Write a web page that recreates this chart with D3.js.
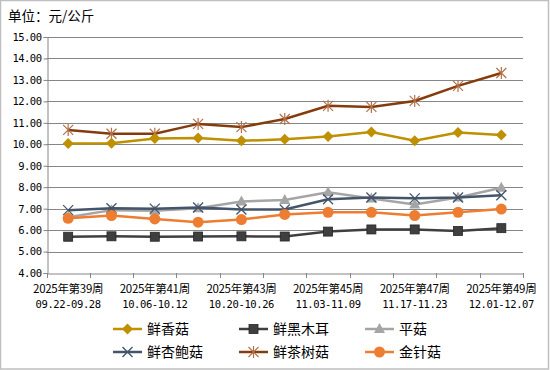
<!DOCTYPE html>
<html>
<head>
<meta charset="utf-8">
<script src="https://cdn.jsdelivr.net/npm/d3@7"></script>
<style>
  html, body { margin: 0; padding: 0; background: #fff; }
  svg { display: block; }
  text { font-family: "Noto Sans CJK SC", "DejaVu Sans", sans-serif; fill: #000; }
  text.mono { font-family: "DejaVu Sans Mono", "Liberation Mono", monospace; }
</style>
</head>
<body>
<div id="chart"></div>
<script>
// ── Data ──
const weeks = ['39', '40', '41', '42', '43', '44', '45', '46', '47', '48', '49'];
const weekLabels = ['2025年第39周', '', '2025年第41周', '', '2025年第43周', '', '2025年第45周', '', '2025年第47周', '', '2025年第49周'];
const dateLabels = ['09.22-09.28', '', '10.06-10.12', '', '10.20-10.26', '', '11.03-11.09', '', '11.17-11.23', '', '12.01-12.07'];
const yTicks = [4, 5, 6, 7, 8, 9, 10, 11, 12, 13, 14, 15];

const seriesNames = ['鲜香菇', '鲜黑木耳', '平菇', '鲜杏鲍菇', '鲜茶树菇', '金针菇'];
const xianxianggu = [10.04, 10.05, 10.27, 10.29, 10.16, 10.23, 10.36, 10.57, 10.17, 10.55, 10.43];
const heimuer     = [5.69, 5.71, 5.69, 5.70, 5.71, 5.70, 5.93, 6.03, 6.03, 5.96, 6.09];
const pinggu      = [6.60, 6.93, 6.90, 7.02, 7.33, 7.40, 7.76, 7.47, 7.19, 7.52, 7.97];
const xingbaogu   = [6.93, 7.02, 7.00, 7.05, 6.96, 6.96, 7.44, 7.52, 7.48, 7.52, 7.62];
const chashugu    = [10.67, 10.49, 10.49, 10.95, 10.80, 11.18, 11.79, 11.74, 12.02, 12.72, 13.32];
const jinzhengu   = [6.55, 6.68, 6.52, 6.37, 6.49, 6.73, 6.83, 6.83, 6.68, 6.83, 6.98];

const seriesValues = [xianxianggu, heimuer, pinggu, xingbaogu, chashugu, jinzhengu];
const seriesColors = ['#BF9000', '#3F3F3F', '#A5A5A5', '#44546A', '#843C0C', '#ED7D31'];
const seriesMarkers = ['diamond', 'square', 'triangle', 'x', 'star', 'circle'];
const drawOrder = [4, 0, 2, 3, 5, 1];

// ── Layout ──
const W = 550, H = 370;
const plot = { left: 46.5, right: 523, top: 37, bottom: 273 };

const svg = d3.select('#chart').append('svg')
  .attr('width', W).attr('height', H);

// Outer frame
svg.append('rect')
  .attr('x', 0.5).attr('y', 0.5).attr('width', W - 2).attr('height', H - 1.5)
  .attr('fill', '#fff').attr('stroke', '#BFBFBF').attr('stroke-width', 1.5);

// Unit label
svg.append('text').attr('x', 8).attr('y', 21).attr('font-size', 13.5).text('单位：元/公斤');

// Scales
const x = d3.scaleBand().domain(weeks).range([plot.left, plot.right]);
const y = d3.scaleLinear().domain([4, 15]).range([plot.bottom, plot.top]);
const cx = w => x(w) + x.bandwidth() / 2;

// Gridlines
svg.append('g')
  .selectAll('line').data(yTicks.filter(t => t > 4)).join('line')
  .attr('x1', plot.left).attr('x2', plot.right)
  .attr('y1', d => Math.round(y(d)) + 0.5).attr('y2', d => Math.round(y(d)) + 0.5)
  .attr('stroke', '#868686').attr('stroke-width', 1);

// Y axis
const yAxis = svg.append('g')
  .attr('transform', `translate(${Math.round(plot.left) + 0.5},0)`)
  .call(d3.axisLeft(y).tickValues(yTicks).tickSize(4).tickFormat(d => d.toFixed(2)));
yAxis.attr('font-family', null).attr('font-size', null);
yAxis.select('.domain').attr('stroke', '#868686');
yAxis.selectAll('.tick line').attr('stroke', '#868686');
yAxis.selectAll('.tick text').attr('class', 'mono').attr('font-size', 10.5).attr('x', -6)
  .attr('letter-spacing', -0.5);

// X axis
const xAxis = svg.append('g')
  .attr('transform', `translate(0,${Math.round(plot.bottom) + 0.5})`)
  .call(d3.axisBottom(x).tickSize(0).tickFormat(''));
xAxis.select('.domain').attr('stroke', '#868686');
const xTickPos = weeks.map(w => x(w)).concat([plot.right]);
svg.append('g').selectAll('line').data(xTickPos).join('line')
  .attr('x1', d => Math.round(d) + 0.5).attr('x2', d => Math.round(d) + 0.5)
  .attr('y1', plot.bottom).attr('y2', plot.bottom + 5)
  .attr('stroke', '#868686');

const xl = svg.append('g');
weeks.forEach((w, i) => {
  if (!weekLabels[i]) return;
  xl.append('text').attr('x', cx(w)).attr('y', plot.bottom + 20)
    .attr('text-anchor', 'middle').attr('font-size', 11.5).attr('letter-spacing', -0.3).text(weekLabels[i]);
  xl.append('text').attr('class', 'mono').attr('x', cx(w)).attr('y', plot.bottom + 35)
    .attr('text-anchor', 'middle').attr('font-size', 10.5)
    .attr('letter-spacing', -0.4).text(dateLabels[i]);
});

// ── Markers ──
function drawMarker(g, type, color, px, py) {
  if (type === 'diamond') {
    g.append('path').attr('d', `M${px},${py - 5.5}L${px + 5.5},${py}L${px},${py + 5.5}L${px - 5.5},${py}Z`)
      .attr('fill', color);
  } else if (type === 'square') {
    g.append('rect').attr('x', px - 4.5).attr('y', py - 4.5).attr('width', 9).attr('height', 9)
      .attr('fill', color).attr('stroke', '#262626').attr('stroke-width', 0.8);
  } else if (type === 'triangle') {
    g.append('path').attr('d', `M${px},${py - 6}L${px + 5.5},${py + 4}L${px - 5.5},${py + 4}Z`)
      .attr('fill', color);
  } else if (type === 'x') {
    g.append('path').attr('d', `M${px - 5},${py - 5}L${px + 5},${py + 5}M${px - 5},${py + 5}L${px + 5},${py - 5}`)
      .attr('stroke', color).attr('stroke-width', 1.3);
  } else if (type === 'star') {
    g.append('path').attr('d', `M${px - 5},${py - 5}L${px + 5},${py + 5}M${px - 5},${py + 5}L${px + 5},${py - 5}M${px},${py - 6}L${px},${py + 6}`)
      .attr('stroke', '#B3704A').attr('stroke-width', 1.2);
  } else if (type === 'circle') {
    g.append('circle').attr('cx', px).attr('cy', py).attr('r', 5.5).attr('fill', color);
  }
}

// ── Lines ──
const line = d3.line().x((d, i) => cx(weeks[i])).y(d => y(d));
drawOrder.forEach(s => {
  const g = svg.append('g');
  g.append('path').datum(seriesValues[s])
    .attr('d', line).attr('fill', 'none')
    .attr('stroke', seriesColors[s]).attr('stroke-width', 2.5);
  seriesValues[s].forEach((v, i) => drawMarker(g, seriesMarkers[s], seriesColors[s], cx(weeks[i]), y(v)));
});

// ── Legend ──
const legCols = [113, 239, 365];
const legRows = [329, 352];
seriesNames.forEach((name, s) => {
  const lx = legCols[s % 3], ly = legRows[Math.floor(s / 3)];
  const g = svg.append('g');
  g.append('line').attr('x1', lx).attr('x2', lx + 29).attr('y1', ly).attr('y2', ly)
    .attr('stroke', seriesColors[s]).attr('stroke-width', 2.5);
  drawMarker(g, seriesMarkers[s], seriesColors[s], lx + 14.5, ly);
  g.append('text').attr('x', lx + 34).attr('y', ly + 5).attr('font-size', 14).text(name);
});
</script>
</body>
</html>
